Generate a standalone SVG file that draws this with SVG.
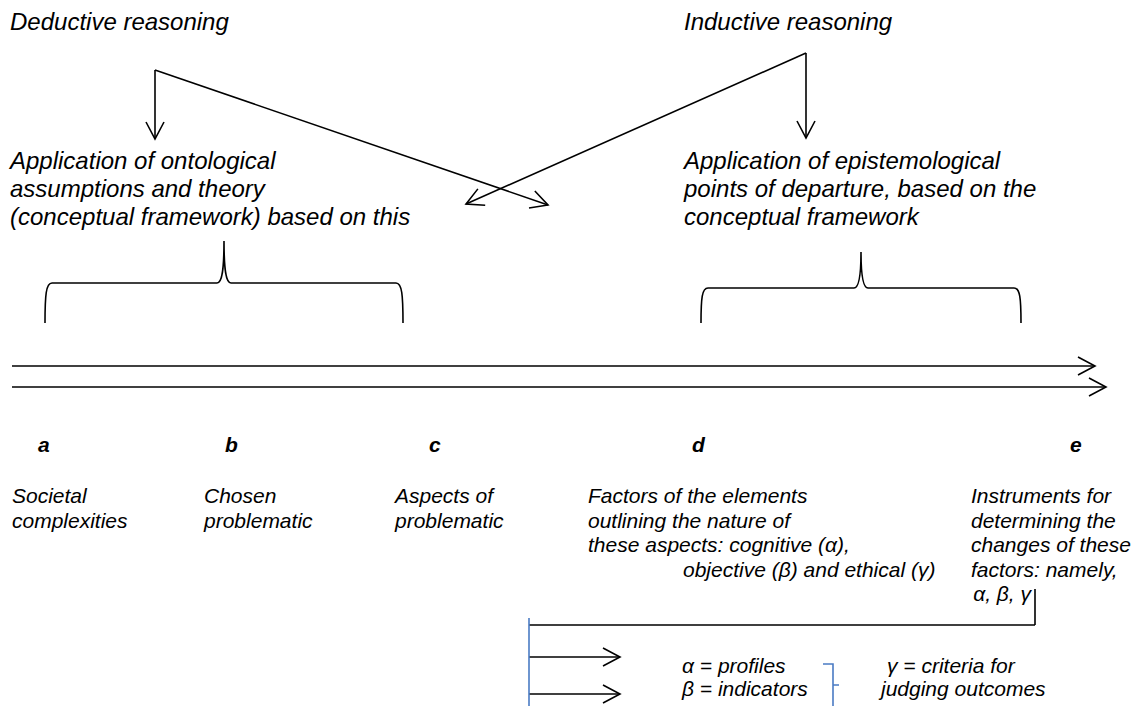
<svg xmlns="http://www.w3.org/2000/svg" width="1136" height="706" viewBox="0 0 1136 706">
  <style>
    .t { font-family: "Liberation Sans", Arial, sans-serif; font-style: italic; fill: #000; }
    .h { font-size: 24px; }
    .s { font-size: 21px; }
    .l { font-size: 21px; font-weight: bold; }
    .ln { fill: none; stroke: #000; stroke-width: 1.6; }
    .bl { fill: none; stroke: #4a7bc4; stroke-width: 1.6; }
  </style>
  <defs>
    <marker id="open" viewBox="0 0 20 20" refX="18" refY="10" markerWidth="20" markerHeight="20" markerUnits="userSpaceOnUse" orient="auto">
      <path d="M1,1 L18,10 L1,19" fill="none" stroke="#000" stroke-width="1.6"/>
    </marker>
  </defs>

  <g id="deductive">
    <text class="t h" x="10" y="30">Deductive reasoning</text>
  </g>
  <g id="inductive">
    <text class="t h" x="684" y="30">Inductive reasoning</text>
  </g>
  <g id="ontological">
    <text class="t h" x="10" y="169">Application of ontological</text>
    <text class="t h" x="10" y="197">assumptions and theory</text>
    <text class="t h" x="10" y="225">(conceptual framework) based on this</text>
  </g>
  <g id="epistemological">
    <text class="t h" x="684" y="169">Application of epistemological</text>
    <text class="t h" x="684" y="197">points of departure, based on the</text>
    <text class="t h" x="684" y="225">conceptual framework</text>
  </g>

  <g id="connectors">
    <path class="ln" d="M155,70 L155,139" marker-end="url(#open)"/>
    <path class="ln" d="M155,70 L548,205" marker-end="url(#open)"/>
    <path class="ln" d="M806,53 L806,138" marker-end="url(#open)"/>
    <path class="ln" d="M806,53 L466,204" marker-end="url(#open)"/>
    <path class="ln" d="M12,366 L1095,366" marker-end="url(#open)"/>
    <path class="ln" d="M12,387 L1106,387" marker-end="url(#open)"/>
    <path class="ln" d="M1035,589 L1035,625 M529,625 L1035,625"/>
    <path class="ln" d="M529,657 L620,657" marker-end="url(#open)"/>
    <path class="ln" d="M529,694 L620,694" marker-end="url(#open)"/>
    <path class="bl" d="M529,618 L529,706"/>
  </g>

  <g id="brace-left">
    <path class="ln" d="M45,323 C45,295 46,283 52,283 L217,283 C222,283 224,270 224,241 C224,270 226,283 231,283 L396,283 C402,283 403,295 403,323"/>
  </g>
  <g id="brace-right">
    <path class="ln" d="M701,323 C701,298 702,288 708,288 L854,288 C859,288 861,276 861,252 C861,276 863,288 868,288 L1014,288 C1020,288 1021,298 1021,323"/>
  </g>

  <g id="step-a">
    <text class="t l" x="38" y="452">a</text>
    <text class="t s" x="12" y="503">Societal</text>
    <text class="t s" x="12" y="527.5">complexities</text>
  </g>
  <g id="step-b">
    <text class="t l" x="225" y="452">b</text>
    <text class="t s" x="204" y="503">Chosen</text>
    <text class="t s" x="204" y="527.5">problematic</text>
  </g>
  <g id="step-c">
    <text class="t l" x="429" y="452">c</text>
    <text class="t s" x="395" y="503">Aspects of</text>
    <text class="t s" x="395" y="527.5">problematic</text>
  </g>
  <g id="step-d">
    <text class="t l" x="692" y="452">d</text>
    <text class="t s" x="588" y="503">Factors of the elements</text>
    <text class="t s" x="588" y="527.5">outlining the nature of</text>
    <text class="t s" x="588" y="552">these aspects: cognitive (α),</text>
    <text class="t s" x="683" y="576.5">objective (β) and ethical (γ)</text>
  </g>
  <g id="step-e">
    <text class="t l" x="1070" y="452">e</text>
    <text class="t s" x="971" y="503">Instruments for</text>
    <text class="t s" x="971" y="527.5">determining the</text>
    <text class="t s" x="971" y="552">changes of these</text>
    <text class="t s" x="971" y="576.5">factors: namely,</text>
    <text class="t s" x="1031" y="601" text-anchor="end">α, β, γ</text>
  </g>

  <g id="measures">
    <text class="t s" x="682" y="673">α = profiles</text>
    <text class="t s" x="682" y="696">β = indicators</text>
    <path class="bl" d="M823,664 L833,664 L833,706 M833,685 L839,685"/>
    <text class="t s" x="887" y="673">γ = criteria for</text>
    <text class="t s" x="881" y="696">judging outcomes</text>
  </g>
</svg>
